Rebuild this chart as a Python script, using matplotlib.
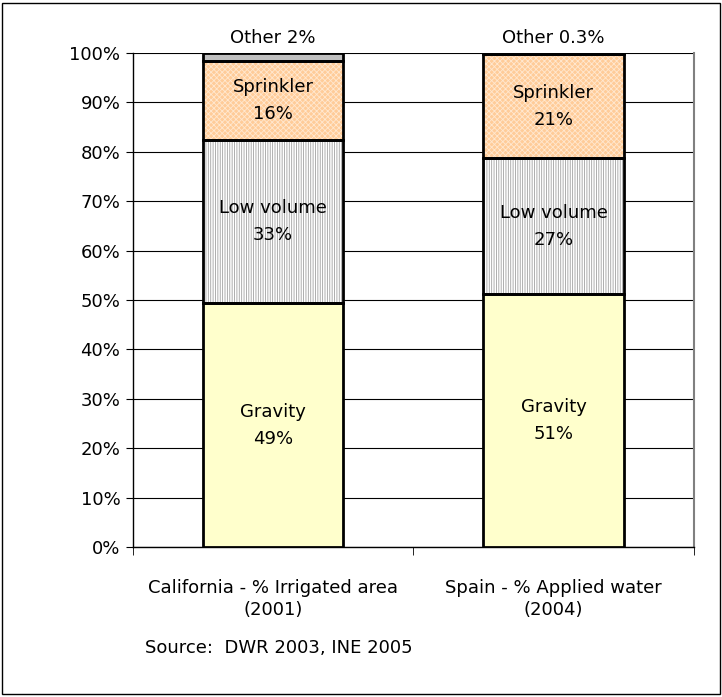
import matplotlib
matplotlib.use('Agg')
import matplotlib.pyplot as plt
from matplotlib.patches import Rectangle
import numpy as np

plt.rcParams['font.family'] = ['DejaVu Sans']
plt.rcParams['hatch.linewidth'] = 0.6

# data
categories = ["California - % Irrigated area\n(2001)", "Spain - % Applied water\n(2004)"]
gravity = [49.4, 51.2]
low_volume = [33.0, 27.5]
sprinkler = [15.9, 21.0]
other = [1.7, 0.3]
gravity_lbl = ["49%", "51%"]
low_lbl = ["33%", "27%"]
spr_lbl = ["16%", "21%"]
other_lbl = ["Other 2%", "Other 0.3%"]

fig = plt.figure(figsize=(7.22, 6.97), dpi=100)
ax = fig.add_axes([0.184, 0.215, 0.777, 0.709])

x = np.arange(len(categories))
w = 0.5

# segments: (values, facecolor, hatch, hatch colour)
segments = [
    (gravity, '#FFFFCC', None, None),
    (low_volume, 'white', '|||||||', '#A0A0A0'),
    (sprinkler, '#FFCC99', 'xxxxxx', '#FFE8D0'),
    (other, '#C0C0C0', None, None),
]

bottom = np.zeros(len(x))
for vals, fc, hatch, hc in segments:
    vals = np.array(vals)
    if hatch:
        ax.bar(x, vals, w, bottom=bottom, color=fc, hatch=hatch,
               edgecolor=hc, linewidth=0, zorder=3)
    else:
        ax.bar(x, vals, w, bottom=bottom, color=fc, linewidth=0, zorder=3)
    ax.bar(x, vals, w, bottom=bottom, fill=False, edgecolor='black', linewidth=2, zorder=4)
    bottom += vals

fs = 13
ls = 1.65
for i in range(len(x)):
    ax.text(x[i], gravity[i] / 2, "Gravity\n" + gravity_lbl[i], ha='center', va='center',
            fontsize=fs, linespacing=ls, zorder=5)
    ax.text(x[i], gravity[i] + low_volume[i] / 2, "Low volume\n" + low_lbl[i], ha='center',
            va='center', fontsize=fs, linespacing=ls, zorder=5)
    ax.text(x[i], gravity[i] + low_volume[i] + sprinkler[i] / 2, "Sprinkler\n" + spr_lbl[i],
            ha='center', va='center', fontsize=fs, linespacing=ls, zorder=5)
    ax.text(x[i], 101.3, other_lbl[i], ha='center', va='bottom', fontsize=fs, zorder=5)

ax.set_xlim(-0.5, 1.5)
ax.set_ylim(0, 100)
ax.set_yticks(np.arange(0, 101, 10))
ax.set_yticklabels([f"{v}%" for v in range(0, 101, 10)], fontsize=fs)
ax.yaxis.grid(True, color='black', linewidth=0.8, zorder=0)
ax.set_axisbelow(True)

ax.set_xticks(x)
ax.set_xticklabels(categories, fontsize=fs, linespacing=1.25)
ax.tick_params(axis='x', length=0, pad=23)
ax.set_xticks([-0.5, 0.5, 1.5], minor=True)
ax.tick_params(axis='x', which='minor', length=6, direction='out', color='black')
ax.tick_params(axis='y', length=5, direction='out', pad=4)

ax.spines['top'].set_visible(False)
ax.spines['right'].set_color('#808080')
ax.spines['right'].set_linewidth(1.5)
ax.spines['left'].set_linewidth(1)
ax.spines['bottom'].set_linewidth(1)

fig.text(145 / 722, 1 - 648 / 697, "Source:  DWR 2003, INE 2005", fontsize=fs, va='center')

fig.patches.append(Rectangle((0.003, 0.004), 0.994, 0.992, transform=fig.transFigure,
                             fill=False, edgecolor='black', linewidth=1))

fig.savefig('out.png', dpi=100)
